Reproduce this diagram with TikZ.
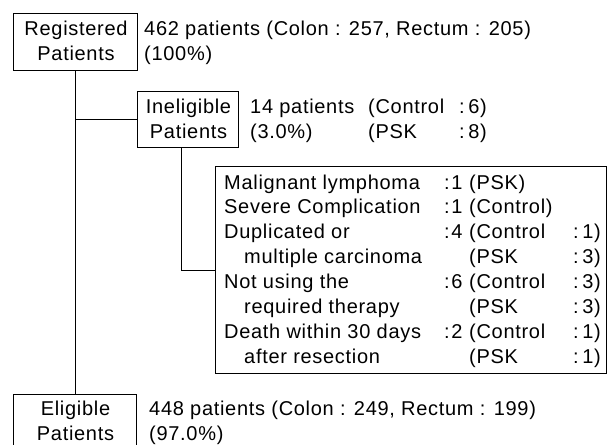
\documentclass[tikz,border=0pt]{standalone}
\usepackage{fontspec}
\setmainfont{Liberation Sans}[LetterSpace=3.5]
\newcommand{\tf}{\fontsize{20}{24}\selectfont}
\newcommand{\cn}[1]{{:}\hspace{3.5pt}#1}
\newcommand{\cb}[1]{{:}\hspace{1.5pt}#1}
\begin{document}
\begin{tikzpicture}[x=1pt,y=-1pt,
  box/.style={draw,line width=0.8pt,inner sep=0pt,anchor=north west},
  txt/.style={anchor=base west,inner sep=0pt,font=\tf},
  ctxt/.style={anchor=base,inner sep=0pt,font=\tf},
  conn/.style={line width=0.8pt}]
\useasboundingbox (0,0) rectangle (609,444);
\fill[white] (0,0) rectangle (609,444);

% boxes
\node[box,minimum width=124pt,minimum height=57pt] (reg) at (13,13) {};
\node[box,minimum width=101pt,minimum height=56pt] (inel) at (137,91) {};
\node[box,minimum width=123pt,minimum height=53pt] (elig) at (13,394) {};
\node[box,minimum width=391pt,minimum height=207pt] (big) at (215,166) {};

% box labels
\node[ctxt] (regA) at (76,35) {Registered};
\node[ctxt] (regB) at (76,60) {Patients};
\node[ctxt] (inA) at (188.5,113) {Ineligible};
\node[ctxt] (inB) at (188.5,138) {Patients};
\node[ctxt] (elA) at (75.5,415) {Eligible};
\node[ctxt] (elB) at (75.5,440) {Patients};

% side texts
\node[txt] (regT1) at (144,35) {462 patients (Colon : 257, Rectum : 205)};
\node[txt] (regT2) at (144,60) {(100\%)};
\node[txt] (inT1) at (250,113) {14 patients};
\node[txt] (inT1b) at (368,113) {(Control};
\node[txt] (inT1c) at (459,113) {\cn{6})};
\node[txt] (inT2) at (250,138) {(3.0\%)};
\node[txt] (inT2b) at (368,138) {(PSK};
\node[txt] (inT2c) at (459,138) {\cn{8})};
\node[txt] (elT1) at (149,415) {448 patients (Colon : 249, Rectum : 199)};
\node[txt] (elT2) at (149,440) {(97.0\%)};

% big box rows
\node[txt] (a1) at (224,189) {Malignant lymphoma};
\node[txt] (a2) at (224,213.9) {Severe Complication};
\node[txt] (a3) at (224,238.8) {Duplicated or};
\node[txt] (a4) at (244,263.7) {multiple carcinoma};
\node[txt] (a5) at (224,288.6) {Not using the};
\node[txt] (a6) at (244,313.5) {required therapy};
\node[txt] (a7) at (224,338.4) {Death within 30 days};
\node[txt] (a8) at (244,363.3) {after resection};

\node[txt] (b1) at (444,189) {\cb{1}};
\node[txt] (b2) at (444,213.9) {\cb{1}};
\node[txt] (b3) at (444,238.8) {\cb{4}};
\node[txt] (b5) at (444,288.6) {\cb{6}};
\node[txt] (b7) at (444,338.4) {\cb{2}};

\node[txt] (c1) at (469,189) {(PSK)};
\node[txt] (c2) at (469,213.9) {(Control)};
\node[txt] (c3) at (469,238.8) {(Control};
\node[txt] (c4) at (469,263.7) {(PSK};
\node[txt] (c5) at (469,288.6) {(Control};
\node[txt] (c6) at (469,313.5) {(PSK};
\node[txt] (c7) at (469,338.4) {(Control};
\node[txt] (c8) at (469,363.3) {(PSK};

\node[txt] (d3) at (573,238.8) {\cn{1})};
\node[txt] (d4) at (573,263.7) {\cn{3})};
\node[txt] (d5) at (573,288.6) {\cn{3})};
\node[txt] (d6) at (573,313.5) {\cn{3})};
\node[txt] (d7) at (573,338.4) {\cn{1})};
\node[txt] (d8) at (573,363.3) {\cn{1})};

% connectors
\draw[conn] (reg.south) -- (reg.south |- elig.north);
\draw[conn] (reg.south |- inel.west) -- (inel.west);
\draw[conn] ([xshift=-7pt]inel.south) |- (big.west);
\end{tikzpicture}
\end{document}
